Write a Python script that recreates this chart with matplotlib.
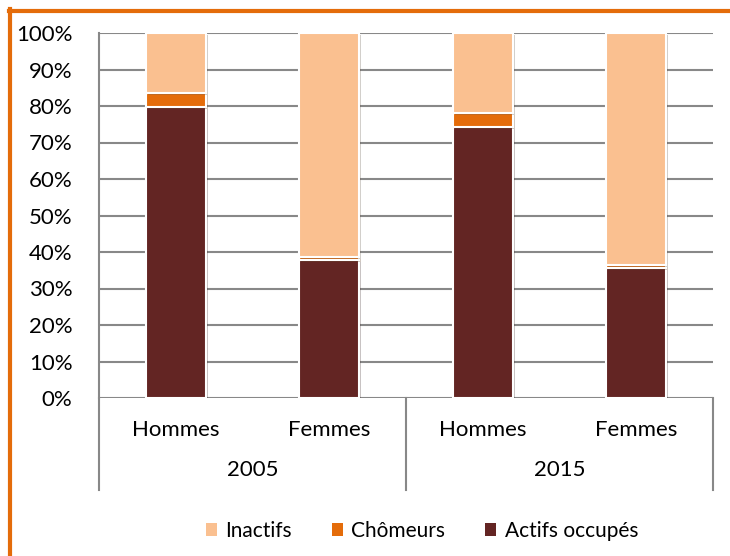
import matplotlib
matplotlib.use("Agg")
import matplotlib.pyplot as plt
import matplotlib.patheffects as pe
from matplotlib.lines import Line2D
from matplotlib.patches import Patch
import numpy as np

plt.rcParams["font.family"] = ["Lato", "DejaVu Sans"]

# données (parts en %)
annees = ["2005", "2015"]
sexes = ["Hommes", "Femmes", "Hommes", "Femmes"]
actifs = [79.7, 37.8, 74.2, 35.6]
chomeurs = [3.9, 0.8, 3.9, 0.8]
inactifs = [100 - a - c for a, c in zip(actifs, chomeurs)]

c_inact = "#FAC090"
c_chom = "#E46C0A"
c_act = "#632523"

fig = plt.figure(figsize=(7.3, 5.56), dpi=100)
ax = fig.add_axes([99 / 730, 1 - 398 / 556, 614 / 730, 365 / 556])

x = np.arange(len(sexes))
w = 0.39
shadow = [pe.SimplePatchShadow(offset=(1.5, -1.5), alpha=0.25), pe.Normal()]
b1 = ax.bar(x, actifs, w, color=c_act, edgecolor="white", linewidth=1.5, zorder=3)
b2 = ax.bar(x, chomeurs, w, bottom=actifs, color=c_chom, edgecolor="white",
            linewidth=1.5, zorder=3)
bottom2 = [a + c for a, c in zip(actifs, chomeurs)]
b3 = ax.bar(x, inactifs, w, bottom=bottom2, color=c_inact, edgecolor="white",
            linewidth=1.5, zorder=3)
for bars in (b1, b2, b3):
    for p in bars:
        p.set_path_effects(shadow)

ax.set_xlim(-0.5, 3.5)
ax.set_ylim(0, 100)
ax.set_yticks(range(0, 101, 10))
ax.set_yticklabels([f"{v}%" for v in range(0, 101, 10)], fontsize=16)
ax.tick_params(axis="y", length=0, pad=19)
ax.set_xticks([])
ax.yaxis.grid(True, color="#888888", linewidth=1.5, zorder=0)
for s in ["top", "right", "bottom"]:
    ax.spines[s].set_visible(False)
ax.spines["left"].set_color("#888888")
ax.spines["left"].set_linewidth(1.5)

# axe des catégories à deux niveaux
trans = ax.get_xaxis_transform()
for xi, s in zip(x, sexes):
    ax.text(xi, -0.088, s, transform=trans, ha="center", va="center", fontsize=16)
for i, a in enumerate(annees):
    ax.text(2 * i + 0.5, -0.197, a, transform=trans, ha="center", va="center", fontsize=16)
for xs in [-0.5, 1.5, 3.5]:
    ax.add_line(Line2D([xs, xs], [0, -0.252], transform=trans, color="#888888",
                       linewidth=1.5, clip_on=False))

handles = [Patch(facecolor=c_inact, label="Inactifs"),
           Patch(facecolor=c_chom, label="Chômeurs"),
           Patch(facecolor=c_act, label="Actifs occupés")]
fig.legend(handles=handles, loc="center",
           bbox_to_anchor=(422 / 730, 1 - 531 / 556), ncol=3, frameon=False,
           fontsize=15, handlelength=0.55, handleheight=0.55, columnspacing=1.9,
           handletextpad=0.4)

# cadre orange
fig.add_artist(Line2D([10 / 730, 10 / 730], [0, 1 - 9 / 556], transform=fig.transFigure,
                      color=c_chom, linewidth=3))
fig.add_artist(Line2D([9 / 730, 1], [1 - 10.5 / 556, 1 - 10.5 / 556],
                      transform=fig.transFigure, color=c_chom, linewidth=3))

fig.savefig("out.png", dpi=100)
